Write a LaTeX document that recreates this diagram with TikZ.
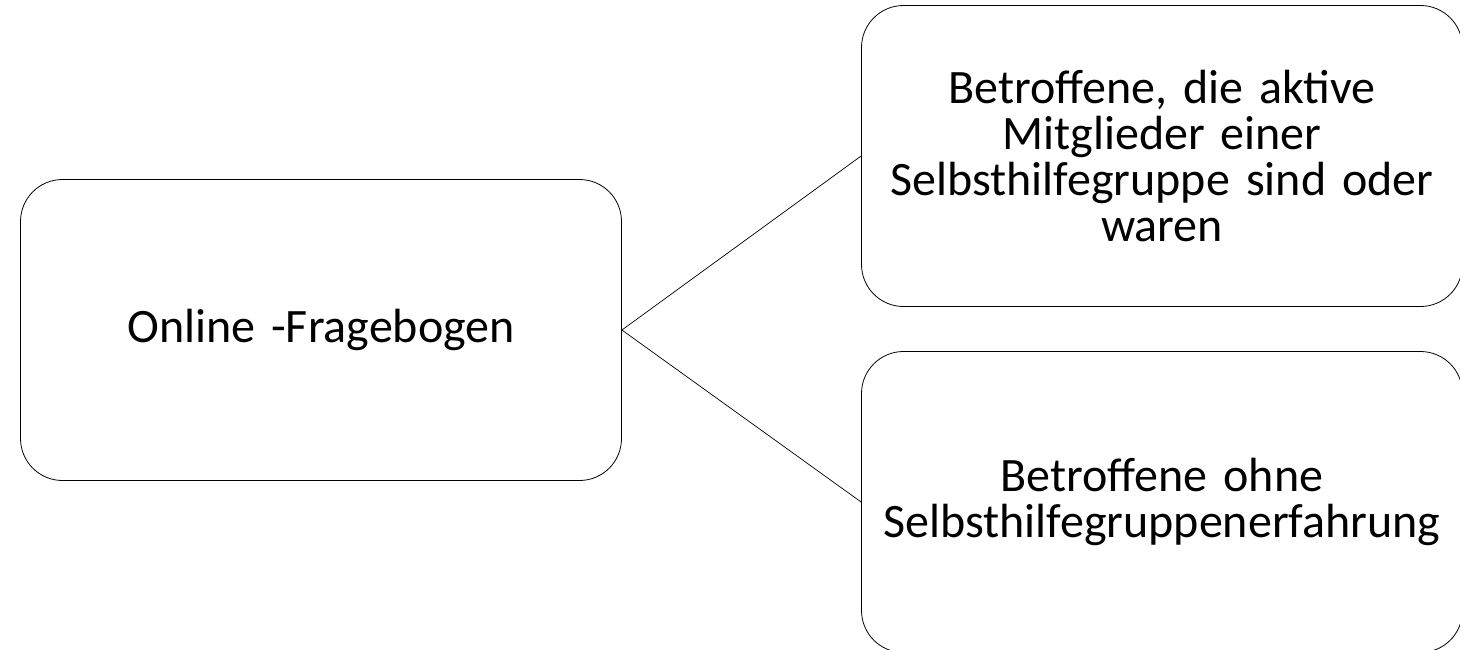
\documentclass[tikz,border=0pt]{standalone}
\usepackage{fontspec}
\setmainfont{Carlito}
\begin{document}
\begin{tikzpicture}[x=1pt,y=-1pt,
  box/.style={draw=black, line width=0.8pt, rounded corners=42pt, minimum width=601pt, minimum height=301pt, inner sep=0pt, align=center, text width=595pt, font=\fontsize{48}{46}\selectfont},
  link/.style={draw=black, line width=0.7pt}]
\useasboundingbox (0,0) rectangle (1460,649);
\clip (0,0) rectangle (1460,649);
\node[box] (src) at (321,330) {Online -Fragebogen};
\node[box] (a) at (1162,156) {Betroffene, die aktive\\Mitglieder einer\\Selbsthilfegruppe sind oder\\waren};
\node[box] (b) at (1162,502) {Betroffene ohne\\Selbsthilfegruppenerfahrung};
\draw[link] (src.east) -- (a.west);
\draw[link] (src.east) -- (b.west);
\end{tikzpicture}
\end{document}
